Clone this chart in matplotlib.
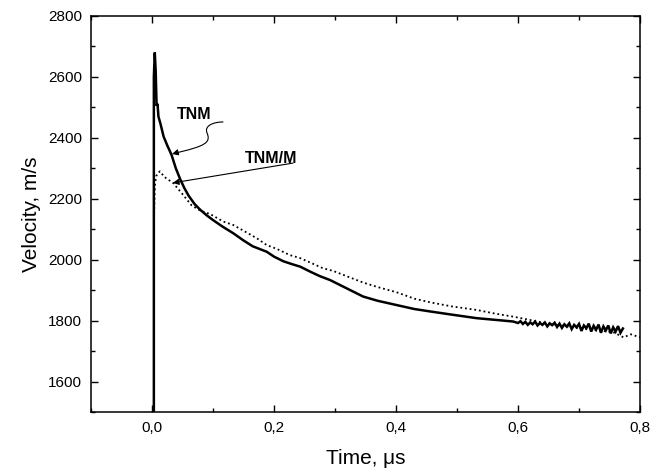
import matplotlib
matplotlib.use("Agg")
import matplotlib.pyplot as plt
from matplotlib.ticker import MultipleLocator, FuncFormatter
from matplotlib.patches import FancyArrowPatch
from matplotlib.path import Path

plt.rcParams['font.family'] = ['Liberation Sans', 'DejaVu Sans']

# TNM (solid line)
tnm_t = [0.003, 0.003, 0.0045, 0.006, 0.0075, 0.009, 0.0105, 0.014, 0.019, 0.025, 0.032,
         0.039, 0.046, 0.053, 0.060, 0.070, 0.080, 0.090, 0.100, 0.116, 0.133, 0.150,
         0.165, 0.188, 0.200, 0.215, 0.230, 0.243, 0.260, 0.275, 0.292, 0.310, 0.330,
         0.346, 0.370, 0.401, 0.430, 0.456, 0.490, 0.532, 0.565, 0.592,
         0.600, 0.604, 0.608, 0.612, 0.616, 0.620, 0.624, 0.628, 0.632, 0.636,
         0.640, 0.644, 0.648, 0.652, 0.656, 0.660, 0.664, 0.668, 0.672, 0.676,
         0.680, 0.684, 0.688, 0.692, 0.696, 0.700, 0.704, 0.708, 0.712, 0.716,
         0.720, 0.724, 0.728, 0.732, 0.736, 0.740, 0.744, 0.748, 0.752, 0.756,
         0.760, 0.764, 0.768, 0.772]
tnm_v = [1500, 2600, 2680, 2620, 2505, 2512, 2470, 2445, 2404, 2375, 2344,
         2300, 2265, 2235, 2210, 2182, 2162, 2145, 2130, 2108, 2087, 2063,
         2044, 2026, 2010, 1995, 1985, 1977, 1960, 1946, 1933, 1915, 1895,
         1879, 1865, 1851, 1838, 1830, 1820, 1808, 1802, 1797,
         1792, 1798, 1789, 1796, 1786, 1794, 1788, 1797, 1784, 1792,
         1786, 1794, 1781, 1791, 1785, 1793, 1779, 1790, 1776, 1788,
         1780, 1791, 1772, 1786, 1778, 1789, 1766, 1784, 1775, 1790,
         1764, 1783, 1770, 1787, 1760, 1781, 1768, 1784, 1758, 1778,
         1764, 1782, 1760, 1774]

# TNM/M (dotted line)
tnmm_t = [0.003, 0.004, 0.005, 0.007, 0.010, 0.013, 0.020, 0.035, 0.050, 0.065, 0.080,
          0.095, 0.117, 0.133, 0.150, 0.172, 0.188, 0.205, 0.226, 0.243, 0.260, 0.280,
          0.297, 0.320, 0.346, 0.370, 0.401, 0.430, 0.456, 0.490, 0.532, 0.565, 0.592,
          0.620, 0.647, 0.675, 0.700, 0.730, 0.756, 0.773, 0.785, 0.800]
tnmm_v = [2120, 2200, 2250, 2275, 2285, 2290, 2272, 2251, 2215, 2178, 2160,
          2150, 2125, 2114, 2095, 2070, 2048, 2035, 2015, 2005, 1990, 1972,
          1963, 1945, 1925, 1910, 1893, 1872, 1860, 1847, 1835, 1822, 1813,
          1802, 1791, 1783, 1775, 1768, 1762, 1745, 1755, 1745]

x_ticks = [0.0, 0.2, 0.4, 0.6, 0.8]
y_ticks = [1600, 1800, 2000, 2200, 2400, 2600, 2800]

fig = plt.figure(figsize=(6.53, 4.71), dpi=100)
ax = fig.add_axes([0.1394, 0.1253, 0.8407, 0.8408])

ax.plot(tnm_t, tnm_v, color='black', lw=1.8, solid_joinstyle='miter')
ax.plot(tnmm_t, tnmm_v, color='black', lw=1.3, linestyle=(0, (1, 1.6)))

ax.set_xlim(-0.1, 0.8)
ax.set_ylim(1500, 2800)
ax.set_xticks(x_ticks)
ax.set_yticks(y_ticks)
ax.xaxis.set_minor_locator(MultipleLocator(0.1))
ax.yaxis.set_minor_locator(MultipleLocator(100))
ax.xaxis.set_major_formatter(FuncFormatter(lambda v, p: f"{v:.1f}".replace('.', ',')))
ax.tick_params(which='both', direction='in', top=True, right=True, width=1.0,
               labelsize=11, pad=6.5, colors='black')
ax.tick_params(which='major', length=5)
ax.tick_params(which='minor', length=3)
for s in ax.spines.values():
    s.set_linewidth(1.1)

ax.set_xlabel('Time, μs', fontsize=15, labelpad=10)
ax.set_ylabel('Velocity, m/s', fontsize=15, labelpad=5)

# annotations
ax.text(0.069, 2478, 'TNM', fontsize=11.5, fontweight='bold', ha='center', va='center')
ax.text(0.196, 2331, 'TNM/M', fontsize=11.5, fontweight='bold', ha='center', va='center')

verts = [(0.1164, 2452), (0.1000, 2452), (0.0852, 2439), (0.0902, 2416),
         (0.0951, 2393), (0.0902, 2383), (0.0787, 2373),
         (0.0623, 2360), (0.0459, 2354), (0.0328, 2347)]
codes = [Path.MOVETO] + [Path.CURVE4] * 9
squiggle = FancyArrowPatch(path=Path(verts, codes), arrowstyle='-|>', mutation_scale=9,
                           lw=0.8, color='black', transform=ax.transData)
ax.add_patch(squiggle)

ax.annotate('', xy=(0.034, 2252), xytext=(0.231, 2317),
            arrowprops=dict(arrowstyle='-|>', mutation_scale=9, lw=0.8, color='black',
                            shrinkA=0, shrinkB=0))

fig.savefig('out.png', dpi=100)
